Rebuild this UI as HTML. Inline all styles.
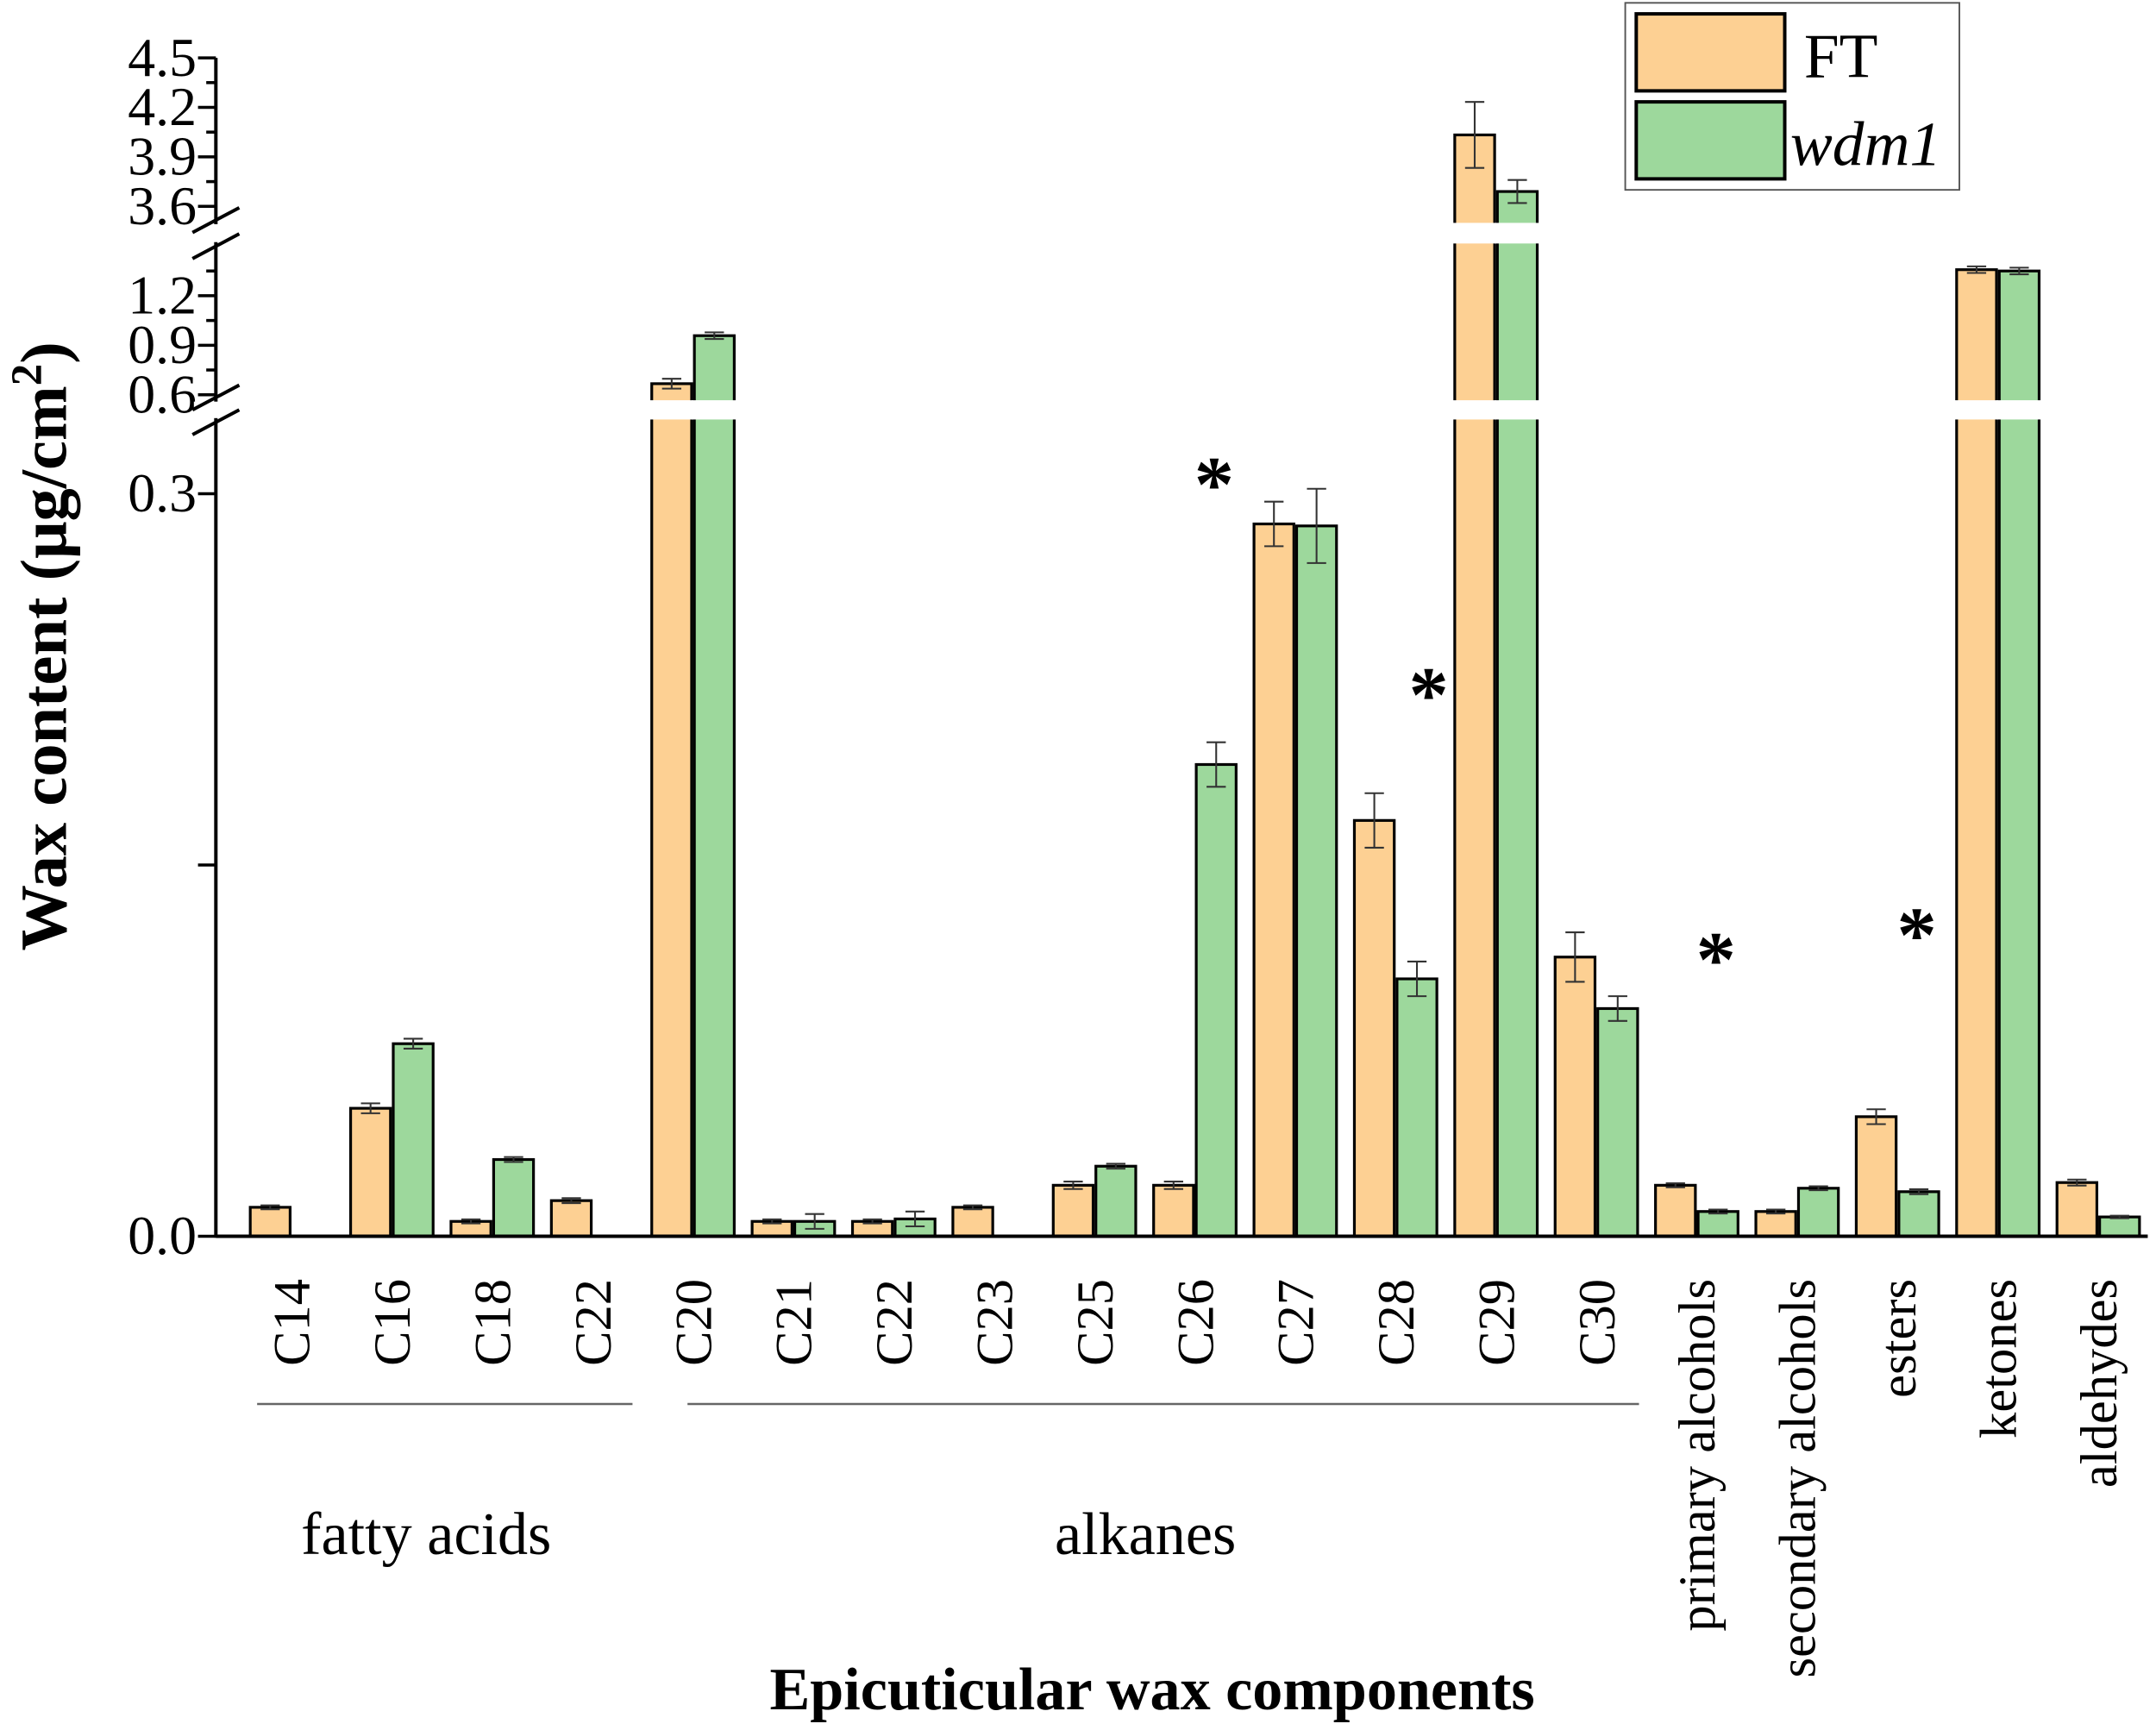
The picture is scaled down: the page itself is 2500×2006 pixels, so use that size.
<!DOCTYPE html>
<html><head><meta charset="utf-8"><style>
html,body{margin:0;padding:0;background:#fff;}
svg{display:block;}
text{font-family:"Liberation Serif",serif;fill:#000;}
</style></head><body>
<svg id="chart" width="2500" height="2006" viewBox="0 0 1568 1258" xmlns="http://www.w3.org/2000/svg">
<g id="plot"></g>
<g>
<rect x="1182" y="2" width="243" height="136" fill="#fff" stroke="#555" stroke-width="1.2"/>
<rect x="1190" y="10" width="108" height="56" fill="#fdd093" stroke="#000" stroke-width="2.5"/>
<text x="1312" y="56" font-size="46">FT</text>
<rect x="1190" y="74" width="108" height="56" fill="#9dd89c" stroke="#000" stroke-width="2.5"/>
<text x="1302" y="120" font-size="46" font-style="italic">wdm1</text>
</g>
<text transform="translate(48,470) rotate(-90)" text-anchor="middle" font-size="48" font-weight="bold">Wax content (μg/cm<tspan font-size="32" dy="-18">2</tspan><tspan dy="18">)</tspan></text>
<text x="838" y="1243" text-anchor="middle" font-size="44" font-weight="bold">Epicuticular wax components</text>
<line x1="187" y1="1021" x2="460" y2="1021" stroke="#666" stroke-width="1.5"/>
<line x1="500" y1="1021" x2="1192" y2="1021" stroke="#666" stroke-width="1.5"/>
<text x="310" y="1130" text-anchor="middle" font-size="44">fatty acids</text>
<text x="833" y="1130" text-anchor="middle" font-size="44">alkanes</text>
</svg>
<script>
const categories = ["C14","C16","C18","C22","C20","C21","C22","C23","C25","C26","C27","C28","C29","C30","primary alcohols","secondary alcohols","esters","ketones","aldehydes"];
const ftValues = [0.0117,0.0517,0.006,0.0144,0.667,0.006,0.006,0.0117,0.0206,0.0206,0.2878,0.168,4.033,0.1128,0.0206,0.01,0.0483,1.358,0.0217];
const ftErrors = [0.0008,0.002,0.0008,0.001,0.03,0.0008,0.0008,0.0008,0.0015,0.0015,0.009,0.011,0.2,0.01,0.0008,0.0008,0.003,0.02,0.0012];
const wdmValues = [0,0.0778,0.031,0,0.958,0.006,0.007,0,0.0283,0.1906,0.287,0.104,3.69,0.092,0.01,0.0194,0.018,1.35,0.0078];
const wdmErrors = [0,0.002,0.001,0,0.02,0.003,0.003,0,0.001,0.009,0.015,0.007,0.07,0.005,0.0008,0.0008,0.001,0.02,0.0005];
const significant = [9,11,14,16];
const starValues = [0.308,0.223,0.116,0.126];
const yTicksLower = ["0.0","0.3"];
const yTicksMiddle = ["0.6","0.9","1.2"];
const yTicksUpper = ["3.6","3.9","4.2","4.5"];

const NS="http://www.w3.org/2000/svg";
const plot=document.getElementById('plot');
function mk(tag,attrs,parent){const e=document.createElementNS(NS,tag);for(const k in attrs)e.setAttribute(k,attrs[k]);(parent||plot).appendChild(e);return e;}
function y(v){
  if(v<=0.33) return 899 - v*1800;
  if(v<=1.6) return 287 - (v-0.6)*120;
  return 150 - (v-3.6)*120;
}
function xc(i){return 212+73*i;}
const AX=157, BW=29;
const gapLow=[291,305], gapHigh=[162,177];

function drawBar(i,v,err,left,fill,name){
  if(v<=0) return;
  const x=left?xc(i)-BW-1:xc(i)+1;
  const top=y(v);
  const r=mk('rect',{x:x,y:top,width:BW,height:899-top,fill:fill,stroke:'#000','stroke-width':2});
  
  
  if(v>0.33){
    const g=mk('rect',{x:x-2,y:gapLow[0],width:BW+4,height:gapLow[1]-gapLow[0],fill:'#fff'});
    
    
  }
  if(v>1.6){
    const g=mk('rect',{x:x-2,y:gapHigh[0],width:BW+4,height:gapHigh[1]-gapHigh[0],fill:'#fff'});
    
    
  }
  if(err>0){
    const cx=x+BW/2, y1=y(v+err), y2=y(v-err);
    const e=mk('path',{d:`M${cx-7},${y1}H${cx+7}M${cx},${y1}V${y2}M${cx-7},${y2}H${cx+7}`,stroke:'#333','stroke-width':1.3,fill:'none'});
    
    
  }
}
categories.forEach((c,i)=>{
  drawBar(i,ftValues[i],ftErrors[i],true,'#fdd093','ft');
  drawBar(i,wdmValues[i],wdmErrors[i],false,'#9dd89c','wdm1');
  const t=mk('text',{transform:`translate(${xc(i)+13},930) rotate(-90)`,'text-anchor':'end','font-size':38});
  t.textContent=c;
  
  
});
significant.forEach((i,k)=>{
  const xs = i===11 ? xc(i)+24 : xc(i)+14;
  const t=mk('text',{x:xs,y:y(starValues[k])+27,'text-anchor':'middle','font-size':58,'font-weight':'bold','font-family':'Liberation Sans, sans-serif'});
  t.textContent='*';
  
  
});
const ya=mk('line',{x1:AX,y1:42,x2:AX,y2:900,stroke:'#000','stroke-width':2.5});


const xa=mk('line',{x1:AX,y1:899,x2:1562,y2:899,stroke:'#000','stroke-width':2.5});


function tick(v,major,label){
  const yy=y(v);
  const l=mk('line',{x1:major?AX-13:AX-7,y1:yy,x2:AX,y2:yy,stroke:'#000','stroke-width':2.2});
  
  
  if(label){
    const t=mk('text',{x:AX-14,y:yy+13,'text-anchor':'end','font-size':40});
    t.textContent=label;
    
    
  }
}
yTicksLower.forEach(s=>tick(parseFloat(s),true,s));
tick(0.15,true,null);
yTicksMiddle.forEach(s=>{tick(parseFloat(s),true,s);tick(parseFloat(s)+0.15,false,null);});
yTicksUpper.forEach(s=>{tick(parseFloat(s),true,s);if(s!=="4.5")tick(parseFloat(s)+0.15,false,null);});
[[gapHigh[0]-2,gapHigh[1]+2],[gapLow[0]-2,gapLow[1]+2]].forEach(p=>{
  const w=mk('rect',{x:AX-16,y:p[0]+3,width:32,height:p[1]-p[0]-6,fill:'#fff'});
  
  
  p.forEach(yy=>{
    const b=mk('line',{x1:AX-17,y1:yy+9,x2:AX+17,y2:yy-9,stroke:'#000','stroke-width':2.5});
    
    
  });
});
</script>
</body></html>
